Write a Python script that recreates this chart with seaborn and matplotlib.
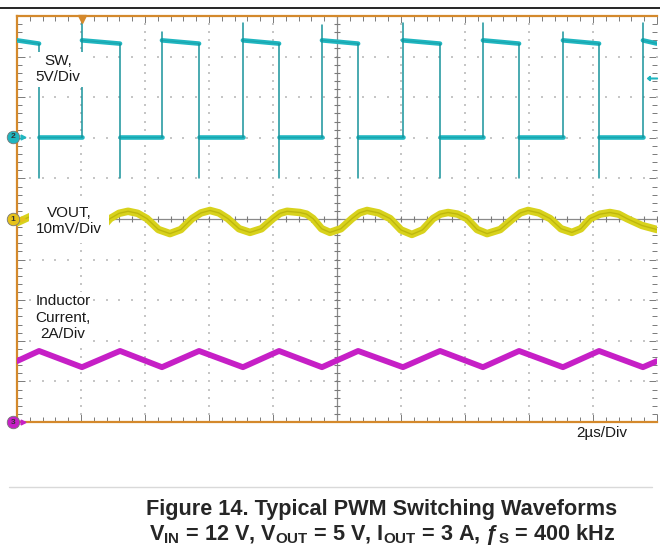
import matplotlib
matplotlib.use("Agg")
import numpy as np
import pandas as pd
import matplotlib.pyplot as plt
import matplotlib.transforms as mtransforms
import seaborn as sns

# scope settings
screen_us = 20.0
us_per_div = 2.0
sw_v_per_div = 5.0
vout_mv_per_div = 10.0
il_a_per_div = 2.0

# channel ground markers (divisions from screen centre)
sw_offset_div = 2.02
vout_offset_div = 0.0
il_offset_div = -5.0

# SW node, ch2 - edges and levels
sw_rise_us = [2.03, 4.53, 7.06, 9.53, 12.06, 14.56, 17.06, 19.56]
sw_fall_us = [0.69, 3.22, 5.69, 8.19, 10.66, 13.22, 15.69, 18.19]
sw_rise_peak_v = [14.0, 12.9, 14.0, 13.8, 14.0, 14.0, 12.9, 14.0]
sw_fall_dip_v = [-5.0, -5.0, -5.0, -5.0, -5.0, -5.0, -5.0, -5.0]
sw_high_start_v = 11.9
sw_high_end_v = 11.5
sw_low_v = 0.0
sw_trigger_v = 7.3

# VOUT ripple, ch1
vout_t_us = [0.0, 0.41, 0.69, 0.97, 1.28, 1.59, 1.93, 2.28, 2.60, 2.91, 3.19, 3.47,
             3.77, 4.06, 4.42, 4.78, 5.12, 5.47, 5.75, 6.03, 6.31, 6.59, 6.94, 7.28,
             7.64, 8.00, 8.22, 8.44, 8.84, 9.05, 9.25, 9.52, 9.78, 10.12, 10.47, 10.70,
             10.94, 11.30, 11.66, 12.00, 12.34, 12.67, 13.00, 13.23, 13.47, 13.77, 14.06,
             14.38, 14.69, 15.10, 15.50, 15.73, 15.97, 16.31, 16.66, 17.00, 17.34, 17.62,
             17.91, 18.22, 18.53, 18.80, 19.06, 19.53, 20.0]
vout_mv = [-0.9, 0.6, 1.5, 1.9, 1.5, -0.1, -2.6, -3.6, -2.6, 0.1, 1.4, 1.9,
           1.4, 0.1, -2.6, -3.6, -2.6, 0.1, 1.5, 2.1, 1.5, 0.1, -2.4, -3.3,
           -2.4, 0.1, 1.4, 1.9, 1.6, 1.2, 0.1, -2.4, -3.3, -2.4, 0.1, 1.5,
           2.1, 1.5, 0.1, -2.7, -3.8, -2.7, 0.1, 1.2, 1.6, 1.2, 0.1,
           -2.6, -3.6, -2.6, 0.1, 1.5, 2.1, 1.5, 0.1, -2.4, -3.3, -2.4,
           0.1, 1.2, 1.6, 1.2, 0.1, -1.6, -2.6]

# inductor current, ch3
il_t_us = [0.0, 0.69, 2.03, 3.22, 4.53, 5.69, 7.06, 8.19, 9.53, 10.66, 12.06,
           13.22, 14.56, 15.69, 17.06, 18.19, 19.56, 20.0]
il_a = [3.0, 3.5, 2.7, 3.5, 2.7, 3.5, 2.7, 3.5, 2.7, 3.5, 2.7,
        3.5, 2.7, 3.5, 2.7, 3.5, 2.7, 3.0]

CYAN = "#1fb6c0"
CYAN_DARK = "#17939b"
YELLOW = "#d8d21c"
YELLOW_DARK = "#aaa200"
MAGENTA = "#c61fc6"
ORANGE = "#d4892c"


def sw_div(v):
    return sw_offset_div + np.asarray(v, dtype=float) / sw_v_per_div


# plateaus (thick band) and edges (thin lines)
band_rows, edge_rows = [], []
seg = 0
for t0, t1 in zip([0.0] + sw_rise_us, sw_fall_us + [screen_us]):
    band_rows += [(seg, t0, sw_div(sw_high_start_v)), (seg, t1, sw_div(sw_high_end_v))]
    seg += 1
for t0, t1 in zip(sw_fall_us, sw_rise_us):
    band_rows += [(seg, t0, sw_div(sw_low_v)), (seg, t1, sw_div(sw_low_v))]
    seg += 1
for t, pk in zip(sw_rise_us, sw_rise_peak_v):
    edge_rows += [(seg, t, sw_div(sw_low_v)), (seg, t, sw_div(pk))]
    seg += 1
for t, dp in zip(sw_fall_us, sw_fall_dip_v):
    edge_rows += [(seg, t, sw_div(sw_high_end_v)), (seg, t, sw_div(dp))]
    seg += 1
sw_band = pd.DataFrame(band_rows, columns=["seg", "t", "y"])
sw_edge = pd.DataFrame(edge_rows, columns=["seg", "t", "y"])

vout = pd.DataFrame({"t": vout_t_us,
                     "y": vout_offset_div + np.array(vout_mv) / vout_mv_per_div})
il = pd.DataFrame({"t": il_t_us,
                   "y": il_offset_div + np.array(il_a) / il_a_per_div})

sns.set_style("white")
plt.rcParams["font.family"] = ["Liberation Sans", "DejaVu Sans"]
plt.rcParams["mathtext.fontset"] = "custom"
plt.rcParams["mathtext.bf"] = "Liberation Sans:bold"
plt.rcParams["mathtext.rm"] = "Liberation Sans:bold"

fig = plt.figure(figsize=(6.6, 5.6), dpi=100)
ax = fig.add_axes([17 / 660, 138 / 560, 640 / 660, 406 / 560])
ax.set_xlim(0, screen_us)
ax.set_ylim(-5, 5)

# dotted graticule
minor_x = np.arange(0, screen_us + 0.01, us_per_div / 5)
minor_y = np.arange(-5, 5.01, 0.2)
for gy in range(-4, 5):
    if gy != 0:
        ax.scatter(minor_x, np.full_like(minor_x, gy), s=1.5, marker="s",
                   color="#c6c6c6", linewidths=0, zorder=1)
for gx in np.arange(us_per_div, screen_us, us_per_div):
    if abs(gx - screen_us / 2) > 0.01:
        ax.scatter(np.full_like(minor_y, gx), minor_y, s=1.5, marker="s",
                   color="#c6c6c6", linewidths=0, zorder=1)

# centre cross with ticks
ax.axvline(screen_us / 2, color="#8a8a8a", lw=0.9, zorder=1)
ax.axhline(0, color="#8a8a8a", lw=0.9, zorder=1)
ax.scatter(minor_x, np.zeros_like(minor_x), marker="|", s=18, color="#7a7a7a",
           linewidths=0.8, zorder=1)
ax.scatter(np.full_like(minor_y, screen_us / 2), minor_y, marker="_", s=18,
           color="#7a7a7a", linewidths=0.8, zorder=1)

# traces
sns.lineplot(data=sw_band, x="t", y="y", units="seg", estimator=None, sort=False,
             color=CYAN, lw=3.3, ax=ax, legend=False, zorder=3)
sns.lineplot(data=sw_band, x="t", y="y", units="seg", estimator=None, sort=False,
             color=CYAN_DARK, lw=0.6, alpha=0.6, ax=ax, legend=False, zorder=3)
sns.lineplot(data=sw_edge, x="t", y="y", units="seg", estimator=None, sort=False,
             color=CYAN_DARK, lw=1.1, ax=ax, legend=False, zorder=3)
sns.lineplot(data=vout, x="t", y="y", estimator=None, sort=False,
             color=YELLOW, lw=5.4, ax=ax, legend=False, zorder=3)
sns.lineplot(data=vout, x="t", y="y", estimator=None, sort=False,
             color=YELLOW_DARK, lw=1.0, alpha=0.55, ax=ax, legend=False, zorder=3)
sns.lineplot(data=il, x="t", y="y", estimator=None, sort=False,
             color=MAGENTA, lw=4.2, ax=ax, legend=False, zorder=3)

# frame + ticks
for side in ["left", "top", "bottom"]:
    ax.spines[side].set_color(ORANGE)
    ax.spines[side].set_linewidth(1.6)
ax.spines["right"].set_visible(False)
ax.set_xticks(np.arange(0, screen_us + 0.01, us_per_div))
ax.set_xticks(minor_x, minor=True)
ax.set_yticks(np.arange(-5, 6, 1))
ax.set_yticks(minor_y, minor=True)
ax.tick_params(which="both", direction="in", top=True, bottom=True, left=True,
               right=True, labelbottom=False, labelleft=False, color="#7a7a7a",
               width=0.7)
ax.tick_params(which="major", length=6)
ax.tick_params(which="minor", length=3.5)
ax.set_xlabel("")
ax.set_ylabel("")

# channel markers
trans = mtransforms.blended_transform_factory(ax.transAxes, ax.transData)
for yv, col, num in [(sw_offset_div, CYAN, "2"), (vout_offset_div, "#e6c21a", "1"),
                     (il_offset_div, MAGENTA, "3")]:
    ax.plot([-0.006], [yv], marker="o", ms=9, color=col, mec="#777777", mew=0.6,
            transform=trans, clip_on=False, zorder=6)
    ax.text(-0.006, yv, num, fontsize=6, fontweight="bold", color="#333333",
            ha="center", va="center", transform=trans, zorder=7, clip_on=False)
    ax.plot([0.009], [yv], marker=">", ms=3.5, color=col, transform=trans,
            clip_on=False, zorder=6)
ax.plot([sw_rise_us[0]], [4.93], marker="v", ms=6, color=ORANGE, clip_on=False, zorder=6)
ax.plot([0.992], [sw_div(sw_trigger_v)], marker=r"$\leftarrow$", ms=7, color=CYAN,
        transform=trans, clip_on=False, zorder=6)

# trace labels
box = dict(boxstyle="square,pad=0.15", fc="white", ec="none")
ax.text(1.28, 3.69, "SW,\n5V/Div", fontsize=11, ha="center", va="center",
        color="#1a1a1a", bbox=box, zorder=5)
ax.text(1.63, -0.04, "VOUT,\n10mV/Div", fontsize=11, ha="center", va="center",
        color="#1a1a1a", bbox=dict(boxstyle="square,pad=0.45", fc="white", ec="none"),
        zorder=5)
ax.text(1.44, -2.43, "Inductor\nCurrent,\n2A/Div", fontsize=11, ha="center",
        va="center", color="#1a1a1a", bbox=box, zorder=5)

fig.text(602 / 660, 1 - 433 / 560, "2µs/Div", fontsize=11, ha="center", va="center",
         color="#1a1a1a")

# page decorations
fig.add_artist(plt.Line2D([0, 1], [1 - 8 / 560] * 2, color="black", lw=1.2))
fig.add_artist(plt.Line2D([9 / 660, 652 / 660], [1 - 487 / 560] * 2, color="#d9d9d9", lw=1.0))
fig.text(382 / 660, 1 - 515 / 560, "Figure 14. Typical PWM Switching Waveforms",
         fontsize=15.6, fontweight="bold", ha="center", va="baseline")
fig.text(382 / 660, 1 - 540 / 560,
         r"V$_{\mathbf{IN}}$ = 12 V, V$_{\mathbf{OUT}}$ = 5 V, I$_{\mathbf{OUT}}$ = 3 A, "
         r"ƒ$_{\mathbf{S}}$ = 400 kHz",
         fontsize=15.6, fontweight="bold", ha="center", va="baseline")

fig.savefig("out.png", dpi=100)
